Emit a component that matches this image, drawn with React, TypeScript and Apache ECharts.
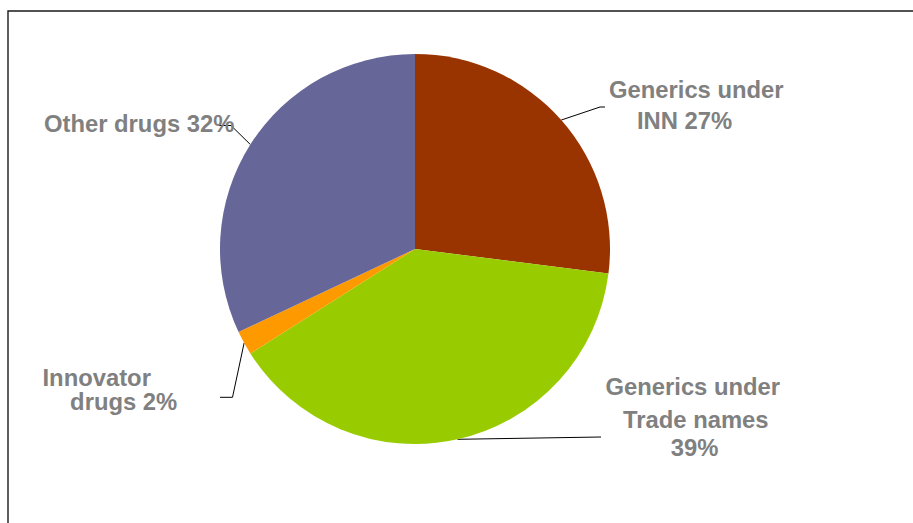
import React, { useEffect, useRef } from "react";
import * as echarts from "echarts";

const categories = [
  "Generics under INN",
  "Generics under Trade names",
  "Innovator drugs",
  "Other drugs",
];
const values = [27, 39, 2, 32];
const colors = ["#993300", "#99CC00", "#FF9900", "#666699"];
// how each label is wrapped into lines (last line gets the percentage)
const labelLinesText = [
  ["Generics under", "INN"],
  ["Generics under", "Trade names", ""],
  ["Innovator", "drugs"],
  ["Other drugs"],
];
// label placement (left x, top y), per-line indents and line heights
const labelPos = [
  [609, 74],
  [605.5, 370.5],
  [42.5, 365.5],
  [44, 108.5],
];
const lineIndents = [
  [0, 28],
  [0, 17.6, 65.3],
  [0, 27.6],
  [0],
];
const lineHeights = [
  [31, 31],
  [32.7, 32.7, 23.9],
  [23.8, 23.8],
  [30],
];
// label guide line points after the slice anchor
const guidePoints = [
  [[600, 107], [605, 107]],
  [[601, 437]],
  [[232.5, 397.3], [220, 397.3]],
  [[231, 125.5], [219, 125.5]],
];

const FONT = "'Liberation Sans', Arial, Helvetica, sans-serif";
const CX = 415;
const CY = 249;
const R = 195;

export default function App() {
  const ref = useRef<HTMLDivElement>(null);
  useEffect(() => {
    if (!ref.current) return;
    const chart = echarts.init(ref.current, null, { renderer: "svg" });
    const total = values.reduce((a, b) => a + b, 0);
    const data = categories.map((name, i) => {
      const lines = labelLinesText[i].slice();
      const last = lines.length - 1;
      lines[last] = (lines[last] ? lines[last] + " " : "") + values[i] + "%";
      const rich: Record<string, any> = {};
      const parts = lines.map((t, k) => {
        rich["l" + k] = {
          fontFamily: FONT,
          fontWeight: "bold",
          fontSize: 23.8,
          color: "#808080",
          lineHeight: lineHeights[i][k],
          padding: [0, 0, 0, lineIndents[i][k]],
          align: "left",
        };
        return "{l" + k + "|" + t + "}";
      });
      return {
        name,
        value: values[i],
        itemStyle: { color: colors[i] },
        label: { formatter: parts.join("\n"), rich },
      };
    });
    chart.setOption({
      animation: false,
      backgroundColor: "#ffffff",
      graphic: [
        {
          type: "rect",
          shape: { x: 8, y: 11, width: 1200, height: 800 },
          style: { fill: "none", stroke: "#1a1a1a", lineWidth: 1.4 },
          silent: true,
        },
      ],
      series: [
        {
          type: "pie",
          center: [CX, CY],
          radius: R,
          startAngle: 90,
          clockwise: true,
          avoidLabelOverlap: false,
          itemStyle: { borderWidth: 0 },
          label: {
            show: true,
            position: "outside",
            fontFamily: FONT,
            fontWeight: "bold",
            fontSize: 23.8,
            color: "#808080",
          },
          labelLine: {
            show: true,
            smooth: false,
            lineStyle: { color: "#000000", width: 1 },
          },
          labelLayout: (params: any) => {
            const i = params.dataIndex;
            let p0 = params.labelLinePoints && params.labelLinePoints[0];
            if (!p0) {
              let before = 0;
              for (let k = 0; k < i; k++) before += values[k];
              const mid = (90 - ((before + values[i] / 2) / total) * 360) * (Math.PI / 180);
              p0 = [CX + R * Math.cos(mid), CY - R * Math.sin(mid)];
            }
            return {
              x: labelPos[i][0],
              y: labelPos[i][1],
              align: "left",
              verticalAlign: "top",
              labelLinePoints: [p0, ...guidePoints[i]],
            };
          },
          data,
        },
      ],
    });
    return () => chart.dispose();
  }, []);
  return (
    <div
      ref={ref}
      style={{ position: "absolute", left: 0, top: 0, width: 913, height: 523 }}
    />
  );
}
